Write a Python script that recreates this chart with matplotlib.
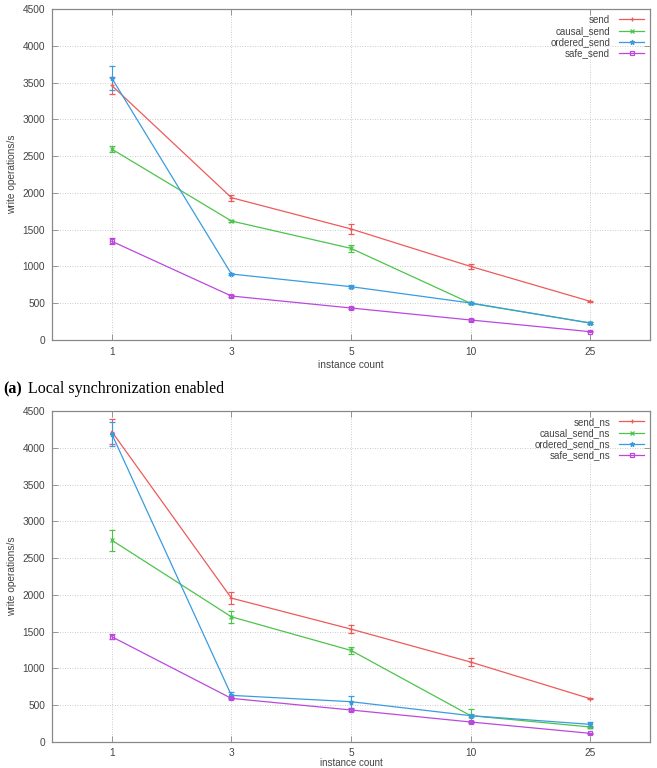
import matplotlib
matplotlib.use("Agg")
import matplotlib.pyplot as plt
from matplotlib.lines import Line2D
import numpy as np

categories = ["1", "3", "5", "10", "25"]

# Top chart: local synchronization enabled
top_labels = ["send", "causal_send", "ordered_send", "safe_send"]
top_values = {
    "send": [3460, 1935, 1510, 1000, 526],
    "causal_send": [2595, 1618, 1246, 499, 231],
    "ordered_send": [3560, 897, 725, 503, 231],
    "safe_send": [1342, 598, 435, 272, 113],
}
top_errors = {
    "send": [110, 40, 70, 40, 10],
    "causal_send": [40, 20, 50, 10, 8],
    "ordered_send": [160, 10, 20, 10, 8],
    "safe_send": [40, 10, 10, 8, 8],
}

# Bottom chart
bot_labels = ["send_ns", "causal_send_ns", "ordered_send_ns", "safe_send_ns"]
bot_values = {
    "send_ns": [4220, 1956, 1535, 1087, 589],
    "causal_send_ns": [2743, 1702, 1245, 358, 204],
    "ordered_send_ns": [4188, 634, 548, 358, 240],
    "safe_send_ns": [1431, 593, 435, 272, 118],
}
bot_errors = {
    "send_ns": [170, 80, 50, 55, 10],
    "causal_send_ns": [140, 80, 45, 90, 20],
    "ordered_send_ns": [160, 40, 80, 20, 30],
    "safe_send_ns": [35, 15, 10, 8, 8],
}

caption = "Local synchronization enabled"
yticks = [0, 500, 1000, 1500, 2000, 2500, 3000, 3500, 4000, 4500]

colors = ["#ee5a5a", "#4cc44c", "#3a9ce0", "#bb48dd"]
markers = ["+", "x", "*", "s"]
mfcs = [None, None, None, "none"]

plt.rcParams["font.family"] = ["Liberation Sans", "DejaVu Sans"]

fig = plt.figure(figsize=(6.57, 7.68), dpi=100)
ax1 = fig.add_axes([52/657, 1-340/768, 598/657, 331/768])
ax2 = fig.add_axes([52/657, 1-742/768, 598/657, 331/768])

TXT = "#444444"


def draw(ax, labels, values, errors, xpad, xtpad, xlfs):
    x = np.arange(len(categories))
    handles = []
    for i, lab in enumerate(labels):
        kw = dict(color=colors[i], lw=0.9, marker=markers[i], ms=3.5, mew=0.9,
                  capsize=2, elinewidth=0.8, capthick=0.8)
        if mfcs[i] is not None:
            kw["mfc"] = mfcs[i]
        ax.errorbar(x, values[lab], yerr=errors[lab], **kw)
        hk = dict(color=colors[i], lw=0.9, marker=markers[i], ms=3.5, mew=0.9)
        if mfcs[i] is not None:
            hk["mfc"] = mfcs[i]
        handles.append(Line2D([], [], label=lab, **hk))
    ax.set_xlim(-0.5, len(categories) - 0.5)
    ax.set_ylim(0, 4500)
    ax.set_xticks(x)
    ax.set_xticklabels(categories)
    ax.set_yticks(yticks)
    ax.grid(True, linestyle=(0, (1, 2)), color="#bbbbbb", lw=0.6)
    ax.tick_params(direction="in", length=4, width=0.6, colors="#888888",
                   labelcolor=TXT, labelsize=7.3, top=True, right=True,
                   pad=5)
    ax.tick_params(axis="x", pad=xtpad)
    for s in ax.spines.values():
        s.set_color("#888888")
        s.set_linewidth(0.9)
    ax.set_ylabel("write operations/s", fontsize=7.3, color=TXT, labelpad=4)
    ax.set_xlabel("instance count", fontsize=xlfs, color=TXT, labelpad=xpad)
    leg = ax.legend(handles=handles, loc="upper right", frameon=False,
                    markerfirst=False, fontsize=7, handlelength=2.6,
                    labelspacing=0.12, borderaxespad=0.2, handletextpad=0.9,
                    borderpad=0.4)
    for t in leg.get_texts():
        t.set_color(TXT)


draw(ax1, top_labels, top_values, top_errors, 2, 5, 7.3)
draw(ax2, bot_labels, bot_values, bot_errors, 0.3, 4, 7)

fig.text(3/657, 1-389/768, "(a)", fontsize=11.5, fontweight="bold",
         family=["Liberation Serif", "DejaVu Serif"], va="center", ha="left")
fig.text(28/657, 1-389/768, caption, fontsize=11.5,
         family=["Liberation Serif", "DejaVu Serif"], va="center", ha="left")

fig.savefig("out.png", dpi=100)
